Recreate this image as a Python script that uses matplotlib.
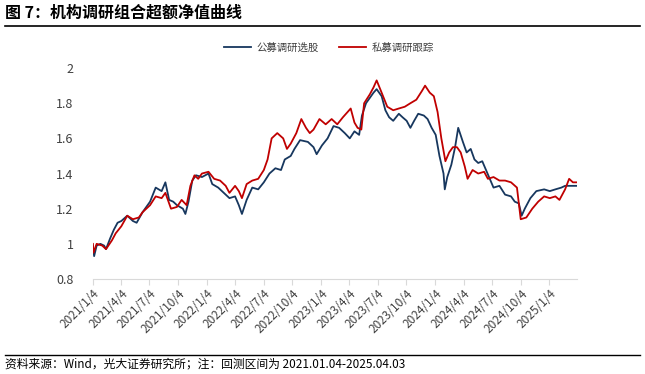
import matplotlib
matplotlib.use("Agg")
import matplotlib.pyplot as plt
import pandas as pd

plt.rcParams['font.family'] = ['Noto Sans CJK SC', 'DejaVu Sans']

# 公募调研选股
pub_dates = [
    "2021-01-04", "2021-01-08", "2021-01-16", "2021-01-28", "2021-02-09", "2021-02-15",
    "2021-02-28", "2021-03-12", "2021-03-24", "2021-04-05", "2021-04-24", "2021-05-12",
    "2021-05-24", "2021-06-12", "2021-07-06", "2021-07-24", "2021-08-12", "2021-08-24",
    "2021-09-05", "2021-09-18", "2021-09-30", "2021-10-19", "2021-10-27", "2021-11-06",
    "2021-11-18", "2021-11-30", "2021-12-19", "2022-01-09", "2022-01-21", "2022-02-09",
    "2022-02-27", "2022-03-17", "2022-04-04", "2022-04-16", "2022-04-26", "2022-05-11",
    "2022-05-29", "2022-06-17", "2022-07-05", "2022-07-23", "2022-08-11", "2022-08-29",
    "2022-09-10", "2022-09-29", "2022-10-11", "2022-10-29", "2022-11-23", "2022-12-11",
    "2022-12-21", "2023-01-07", "2023-01-25", "2023-02-13", "2023-03-03", "2023-03-21",
    "2023-04-06", "2023-04-21", "2023-05-06", "2023-05-15", "2023-05-28", "2023-06-09",
    "2023-06-21", "2023-07-01", "2023-07-17", "2023-07-29", "2023-08-10", "2023-08-23",
    "2023-09-10", "2023-09-22", "2023-10-05", "2023-10-17", "2023-10-29", "2023-11-11",
    "2023-11-29", "2023-12-11", "2023-12-24", "2024-01-06", "2024-01-18", "2024-01-31",
    "2024-02-04", "2024-02-12", "2024-02-25", "2024-03-08", "2024-03-18", "2024-04-02",
    "2024-04-14", "2024-04-27", "2024-05-09", "2024-05-21", "2024-06-03", "2024-06-15",
    "2024-06-27", "2024-07-09", "2024-07-28", "2024-08-15", "2024-09-03", "2024-09-15",
    "2024-09-28", "2024-10-07", "2024-10-17", "2024-11-04", "2024-11-23", "2024-12-18",
    "2025-01-05", "2025-01-23", "2025-02-11", "2025-02-23", "2025-03-14", "2025-04-03",
]
pub_vals = [
    0.99, 0.93, 0.99, 1.00, 0.99, 0.97,
    1.03, 1.08, 1.12, 1.13, 1.16, 1.13,
    1.12, 1.18, 1.24, 1.32, 1.30, 1.35,
    1.25, 1.24, 1.22, 1.20, 1.17, 1.24,
    1.36, 1.39, 1.38, 1.40, 1.34, 1.32,
    1.29, 1.26, 1.27, 1.22, 1.17, 1.25,
    1.32, 1.31, 1.35, 1.40, 1.43, 1.42,
    1.48, 1.50, 1.54, 1.59, 1.58, 1.55,
    1.51, 1.56, 1.60, 1.67, 1.66, 1.63,
    1.60, 1.64, 1.62, 1.73, 1.80, 1.83,
    1.86, 1.88, 1.84, 1.76, 1.72, 1.70,
    1.74, 1.72, 1.70, 1.66, 1.70, 1.74,
    1.73, 1.71, 1.66, 1.62, 1.50, 1.40,
    1.31, 1.38, 1.45, 1.55, 1.66, 1.58,
    1.52, 1.54, 1.48, 1.46, 1.47, 1.42,
    1.37, 1.32, 1.33, 1.28, 1.27, 1.24,
    1.23, 1.16, 1.20, 1.26, 1.30, 1.31,
    1.30, 1.31, 1.32, 1.33, 1.33, 1.33,
]

# 私募调研跟踪
pri_dates = [
    "2021-01-04", "2021-01-06", "2021-01-16", "2021-02-03", "2021-02-15", "2021-03-06",
    "2021-03-18", "2021-04-05", "2021-04-24", "2021-05-12", "2021-05-31", "2021-06-12",
    "2021-07-06", "2021-07-24", "2021-08-12", "2021-08-24", "2021-09-11", "2021-09-30",
    "2021-10-15", "2021-10-31", "2021-11-12", "2021-11-25", "2021-12-07", "2021-12-19",
    "2022-01-09", "2022-01-27", "2022-02-15", "2022-03-05", "2022-03-17", "2022-04-04",
    "2022-04-16", "2022-04-26", "2022-05-11", "2022-05-29", "2022-06-17", "2022-07-05",
    "2022-07-17", "2022-07-30", "2022-08-17", "2022-09-05", "2022-09-17", "2022-09-29",
    "2022-10-17", "2022-11-02", "2022-11-17", "2022-11-29", "2022-12-11", "2022-12-30",
    "2023-01-19", "2023-02-07", "2023-02-25", "2023-03-15", "2023-04-09", "2023-04-21",
    "2023-05-01", "2023-05-13", "2023-05-22", "2023-06-09", "2023-06-21", "2023-07-01",
    "2023-07-17", "2023-08-04", "2023-08-23", "2023-09-10", "2023-09-29", "2023-10-17",
    "2023-11-05", "2023-11-23", "2023-12-03", "2023-12-18", "2023-12-31", "2024-01-12",
    "2024-01-24", "2024-02-06", "2024-02-18", "2024-03-01", "2024-03-14", "2024-03-26",
    "2024-04-08", "2024-04-17", "2024-05-03", "2024-05-21", "2024-06-09", "2024-06-21",
    "2024-07-09", "2024-07-28", "2024-08-15", "2024-09-03", "2024-09-22", "2024-10-04",
    "2024-10-22", "2024-11-10", "2024-11-29", "2024-12-18", "2025-01-05", "2025-01-23",
    "2025-02-05", "2025-02-23", "2025-03-08", "2025-03-20", "2025-04-03",
]
pri_vals = [
    1.00, 0.95, 1.00, 0.99, 0.97, 1.02,
    1.06, 1.10, 1.16, 1.14, 1.15, 1.18,
    1.22, 1.27, 1.26, 1.29, 1.20, 1.21,
    1.25, 1.22, 1.33, 1.39, 1.37, 1.40,
    1.41, 1.37, 1.36, 1.33, 1.29, 1.33,
    1.30, 1.26, 1.34, 1.36, 1.37, 1.42,
    1.48, 1.60, 1.63, 1.60, 1.54, 1.57,
    1.63, 1.71, 1.66, 1.63, 1.65, 1.71,
    1.68, 1.71, 1.68, 1.72, 1.77, 1.69,
    1.66, 1.65, 1.80, 1.85, 1.89, 1.93,
    1.86, 1.78, 1.76, 1.77, 1.78, 1.80,
    1.82, 1.87, 1.90, 1.86, 1.84, 1.75,
    1.60, 1.47, 1.52, 1.55, 1.55, 1.52,
    1.44, 1.37, 1.42, 1.40, 1.41, 1.37,
    1.38, 1.36, 1.36, 1.35, 1.32, 1.14,
    1.15, 1.20, 1.24, 1.27, 1.26, 1.27,
    1.25, 1.31, 1.37, 1.35, 1.35,
]

tick_labels = ["2021/1/4", "2021/4/4", "2021/7/4", "2021/10/4", "2022/1/4", "2022/4/4",
               "2022/7/4", "2022/10/4", "2023/1/4", "2023/4/4", "2023/7/4", "2023/10/4",
               "2024/1/4", "2024/4/4", "2024/7/4", "2024/10/4", "2025/1/4"]

navy = "#17375e"
red = "#c00000"

fig = plt.figure(figsize=(6.45, 3.74), dpi=100)
ax = fig.add_axes([0.144, 0.254, 0.751, 0.564])

ax.plot(pd.to_datetime(pub_dates), pub_vals, color=navy, lw=1.3, label="公募调研选股")
ax.plot(pd.to_datetime(pri_dates), pri_vals, color=red, lw=1.3, label="私募调研跟踪")

ax.set_ylim(0.8, 2.0)
ax.set_yticks([0.8, 1.0, 1.2, 1.4, 1.6, 1.8, 2.0])
ax.set_yticklabels(["0.8", "1", "1.2", "1.4", "1.6", "1.8", "2"])
ax.set_xlim(pd.Timestamp("2021-01-04"), pd.Timestamp("2025-04-03"))
ticks = pd.to_datetime([s.replace("/", "-") for s in tick_labels])
ax.set_xticks(ticks)
ax.set_xticklabels(tick_labels, rotation=45, ha="right", rotation_mode="anchor")

for s in ["top", "right", "left"]:
    ax.spines[s].set_visible(False)
ax.spines["bottom"].set_color("#d9d9d9")
ax.tick_params(axis="x", colors="#d9d9d9", length=4, labelcolor="#404040", labelsize=8.5, pad=2)
ax.tick_params(axis="y", length=0, labelcolor="#404040", labelsize=9, pad=14)

fig.legend(loc="center", bbox_to_anchor=(0.51, 0.872), ncol=2, frameon=False,
           fontsize=7.5, handlelength=2.6, columnspacing=2.0, handletextpad=0.5,
           labelcolor="#404040")

fig.text(0.008, 0.965, "图 7：机构调研组合超额净值曲线", fontsize=11.5, fontweight="bold",
         va="center", ha="left")
fig.add_artist(plt.Line2D([0.008, 0.992], [0.93, 0.93], color="black", lw=1.2))
fig.add_artist(plt.Line2D([0.008, 0.992], [0.052, 0.052], color="black", lw=1.0))
fig.text(0.008, 0.027, "资料来源：Wind，光大证券研究所；注：回测区间为 2021.01.04-2025.04.03",
         fontsize=8.5, va="center", ha="left")

fig.savefig("out.png", dpi=100)
